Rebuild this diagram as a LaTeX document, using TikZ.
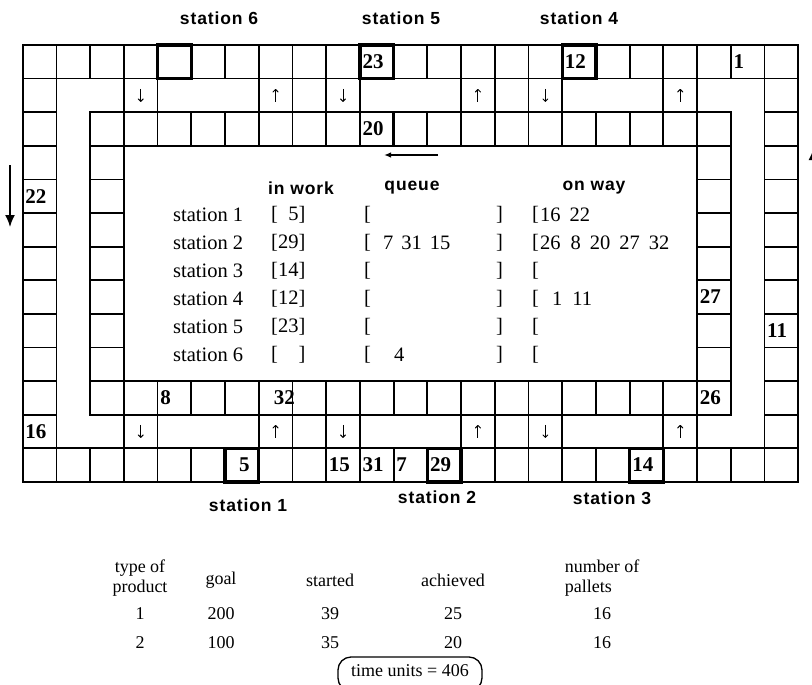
\documentclass[tikz,border=0pt]{standalone}
\usepackage{fontspec}
\setmainfont{Liberation Serif}
\newfontfamily\hfont[LetterSpace=5]{Liberation Sans}
\usetikzlibrary{arrows.meta}
\newcommand\mkcell[2]{\node[cell] (c-#1-#2) at ({22.7+(#1+0.5)*33.72},{45+(#2+0.5)*33.6}) {};}
\begin{document}
\begin{tikzpicture}[x=1pt,y=-1pt,
  cell/.style={draw, line width=1.8pt, minimum width=33.72pt, minimum height=33.6pt, inner sep=0pt, outer sep=0pt},
  boldcell/.style={draw, line width=3.4pt},
  num/.style={anchor=west, inner sep=0pt, font=\fontsize{21}{21}\selectfont\bfseries, xshift=2.5pt},
  sthead/.style={font=\hfont\fontsize{17.5}{17.5}\selectfont\bfseries, inner sep=0pt},
  tab/.style={font=\fontsize{20.5}{20.5}\selectfont, inner sep=0pt, anchor=west},
  bot/.style={font=\fontsize{18}{19.5}\selectfont, inner sep=0pt, align=center},
  cellarrow/.style={line width=1pt, -{To[length=3.5pt,width=6pt]}},
  bigarrow/.style={line width=1.7pt, -{Latex[length=12pt,width=10pt]}},
]
\useasboundingbox (0,0) rectangle (812,685);
% grid cells
\foreach \i in {0,...,22} {\mkcell{\i}{0}\mkcell{\i}{12}}
\foreach \j in {1,...,11} {\mkcell{0}{\j}\mkcell{22}{\j}}
\foreach \i in {2,...,20} {\mkcell{\i}{2}\mkcell{\i}{10}}
\foreach \j in {3,...,9} {\mkcell{2}{\j}\mkcell{20}{\j}}
\foreach \i in {3,7,8,9,13,14,15,19} {\mkcell{\i}{1}\mkcell{\i}{11}}
% station cells
\foreach \i/\j in {4/0,10/0,16/0,6/12,12/12,18/12}
  \draw[boldcell] (c-\i-\j.south west) rectangle (c-\i-\j.north east);
\draw[line width=3pt] (c-10-2.north east) -- (c-10-2.south east);
% pallet numbers
\foreach \i/\j/\t in {10/0/23, 16/0/12, 21/0/1, 10/2/20, 0/4/22, 20/7/27, 22/8/11, 4/10/8, 20/10/26, 0/11/16, 9/12/15, 10/12/31, 11/12/7, 12/12/29, 18/12/14}
  \node[num] (n-\i-\j) at (c-\i-\j.west) {\t};
\node[num, anchor=center, xshift=0pt] (n-6-12) at (c-6-12.center) {5};
\node[num, anchor=east, xshift=0pt] (n-7-10) at (c-7-10.east) {32};
% direction arrows in crossing cells
\foreach \i in {3,9,15} {
  \draw[cellarrow] ([yshift=6.5pt]c-\i-1.center) -- ([yshift=-6.5pt]c-\i-1.center);
  \draw[cellarrow] ([yshift=6.5pt]c-\i-11.center) -- ([yshift=-6.5pt]c-\i-11.center);
}
\foreach \i in {7,13,19} {
  \draw[cellarrow] ([yshift=-6.5pt]c-\i-1.center) -- ([yshift=6.5pt]c-\i-1.center);
  \draw[cellarrow] ([yshift=-6.5pt]c-\i-11.center) -- ([yshift=6.5pt]c-\i-11.center);
}
% big arrows
\coordinate (la1) at (10,165); \coordinate (la2) at (10,227);
\draw[bigarrow] (la1) -- (la2);
\coordinate (ra1) at (815,230); \coordinate (ra2) at (815,144);
\draw[line width=1.7pt, -{Latex[length=16pt,width=13pt]}] (ra1) -- (ra2);
\coordinate (sa1) at (438,155); \coordinate (sa2) at (384,155);
\draw[line width=1.4pt, -{Latex[length=7pt,width=5.5pt]}] (sa1) -- (sa2);
% station headings
\node[sthead] (h6) at (219,18) {station 6};
\node[sthead] (h5) at (401,18) {station 5};
\node[sthead] (h4) at (579,18) {station 4};
\node[sthead] (h1) at (248,505) {station 1};
\node[sthead] (h2) at (437,497) {station 2};
\node[sthead] (h3) at (612,498) {station 3};
% inner status table
\node[sthead] (tw) at (301,188) {in work};
\node[sthead] (tq) at (412,188) {queue};
\node[sthead] (to) at (594,188) {on way};
\foreach \k/\w in {1/{[\hphantom{2}5]}, 2/{[29]}, 3/{[14]}, 4/{[12]}, 5/{[23]}, 6/{[\hphantom{00}]}} {
  \node[tab] (s\k) at (173,{215+28*(\k-1)}) {station \k};
  \node[tab] (w\k) at (271,{215+28*(\k-1)}) {\w};
  \node[tab] (qo\k) at (364,{215+28*(\k-1)}) {[};
  \node[tab] (qc\k) at (496,{215+28*(\k-1)}) {]};
  \node[tab] (oo\k) at (532,{215+28*(\k-1)}) {[};
}
\node[tab] (q2) at (383,243) {7\hspace{8pt}31\hspace{8pt}15};
\node[tab] (q6) at (394,355) {4};
\node[tab] (o1) at (540,215) {16\hspace{9pt}22};
\node[tab] (o2) at (540,243) {26\hspace{10pt}8\hspace{9pt}20\hspace{9pt}27\hspace{9pt}32};
\node[tab] (o4) at (552,299) {1\hspace{10pt}11};
% summary table
\node[bot] (b0) at (140,578) {type of\\product};
\node[bot] (b1) at (221,580) {goal};
\node[bot] (b2) at (330,580) {started};
\node[bot] (b3) at (453,580) {achieved};
\node[bot, align=left] (b4) at (602,578) {number of\\pallets};
\foreach \v/\x in {1/140, 200/221, 39/330, 25/453, 16/602}
  \node[bot] (r1-\x) at (\x,614) {\v};
\foreach \v/\x in {2/140, 100/221, 35/330, 20/453, 16/602}
  \node[bot] (r2-\x) at (\x,643) {\v};
\node[font=\fontsize{18}{18}\selectfont, inner sep=0pt] (tu) at (410,671) {time units = 406};
\draw[line width=1.3pt, rounded corners=13pt] ([xshift=-72pt]tu.center |- 0,657) rectangle ([xshift=72pt]tu.center |- 0,691);
\end{tikzpicture}
\end{document}
